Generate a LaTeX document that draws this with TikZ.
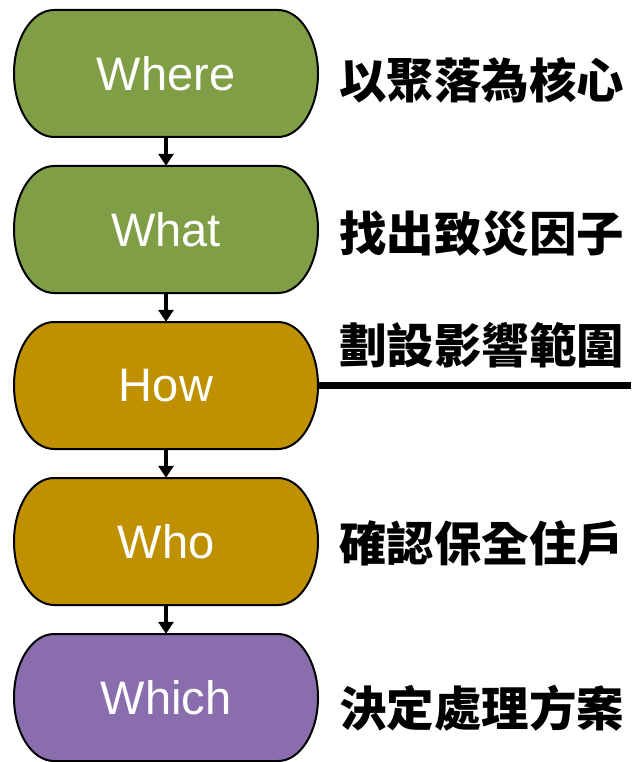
\documentclass[tikz,border=0pt]{standalone}
\usepackage{fontspec}
\setmainfont{Liberation Sans}
\newfontfamily\cjk{Noto Sans CJK TC}
\usetikzlibrary{arrows.meta}
\definecolor{cgreen}{HTML}{7F9E45}
\definecolor{cgold}{HTML}{BF9000}
\definecolor{cpurple}{HTML}{8A6DAC}
\newcommand\stadiumshape[3]{%
  \filldraw[fill=#3, draw=black, line width=2]
    (#1-112,#2-63.5) -- (#1+112,#2-63.5)
    arc[start angle=-90, end angle=90, x radius=40, y radius=63.5]
    -- (#1-112,#2+63.5)
    arc[start angle=90, end angle=270, x radius=40, y radius=63.5] -- cycle;}
\tikzset{
  boxnode/.style={minimum width=304pt, minimum height=127pt, inner sep=0pt,
    text=white, font=\fontsize{47}{50}\selectfont},
  cn/.style={anchor=west, inner sep=0pt, font=\cjk\bfseries\fontsize{47.5}{50}\selectfont},
  arr/.style={line width=3.5, -{Triangle[width=15pt, length=12pt]}},
}
\begin{document}
\begin{tikzpicture}[x=1pt,y=-1pt]
\useasboundingbox (0,0) rectangle (631,762);
\fill[white] (0,0) rectangle (631,762);
\stadiumshape{166}{73.5}{cgreen}
\stadiumshape{166}{229.5}{cgreen}
\stadiumshape{166}{385.5}{cgold}
\stadiumshape{166}{541.5}{cgold}
\stadiumshape{166}{697.5}{cpurple}
\node[boxnode] (where) at (166,73.5) {\raisebox{-2pt}{Where}};
\node[boxnode] (what) at (166,229.5) {What};
\node[boxnode] (how) at (166,385.5) {\raisebox{-3pt}{How}};
\node[boxnode] (who) at (166,541.5) {Who};
\node[boxnode] (which) at (166,697.5) {Which};
\draw[arr] (where.south) -- (what.north);
\draw[arr] (what.south) -- (how.north);
\draw[arr] (how.south) -- (who.north);
\draw[arr] (who.south) -- (which.north);
\coordinate (lineend) at (631,385.5);
\draw[line width=7] (how.east) -- (lineend);
\node[cn] (t1) at (339,80) {以聚落為核心};
\node[cn] (t2) at (339,234) {找出致災因子};
\node[cn] (t3) at (339,345) {劃設影響範圍};
\node[cn] (t4) at (339,543) {確認保全住戶};
\node[cn] (t5) at (339,708) {決定處理方案};
\end{tikzpicture}
\end{document}
